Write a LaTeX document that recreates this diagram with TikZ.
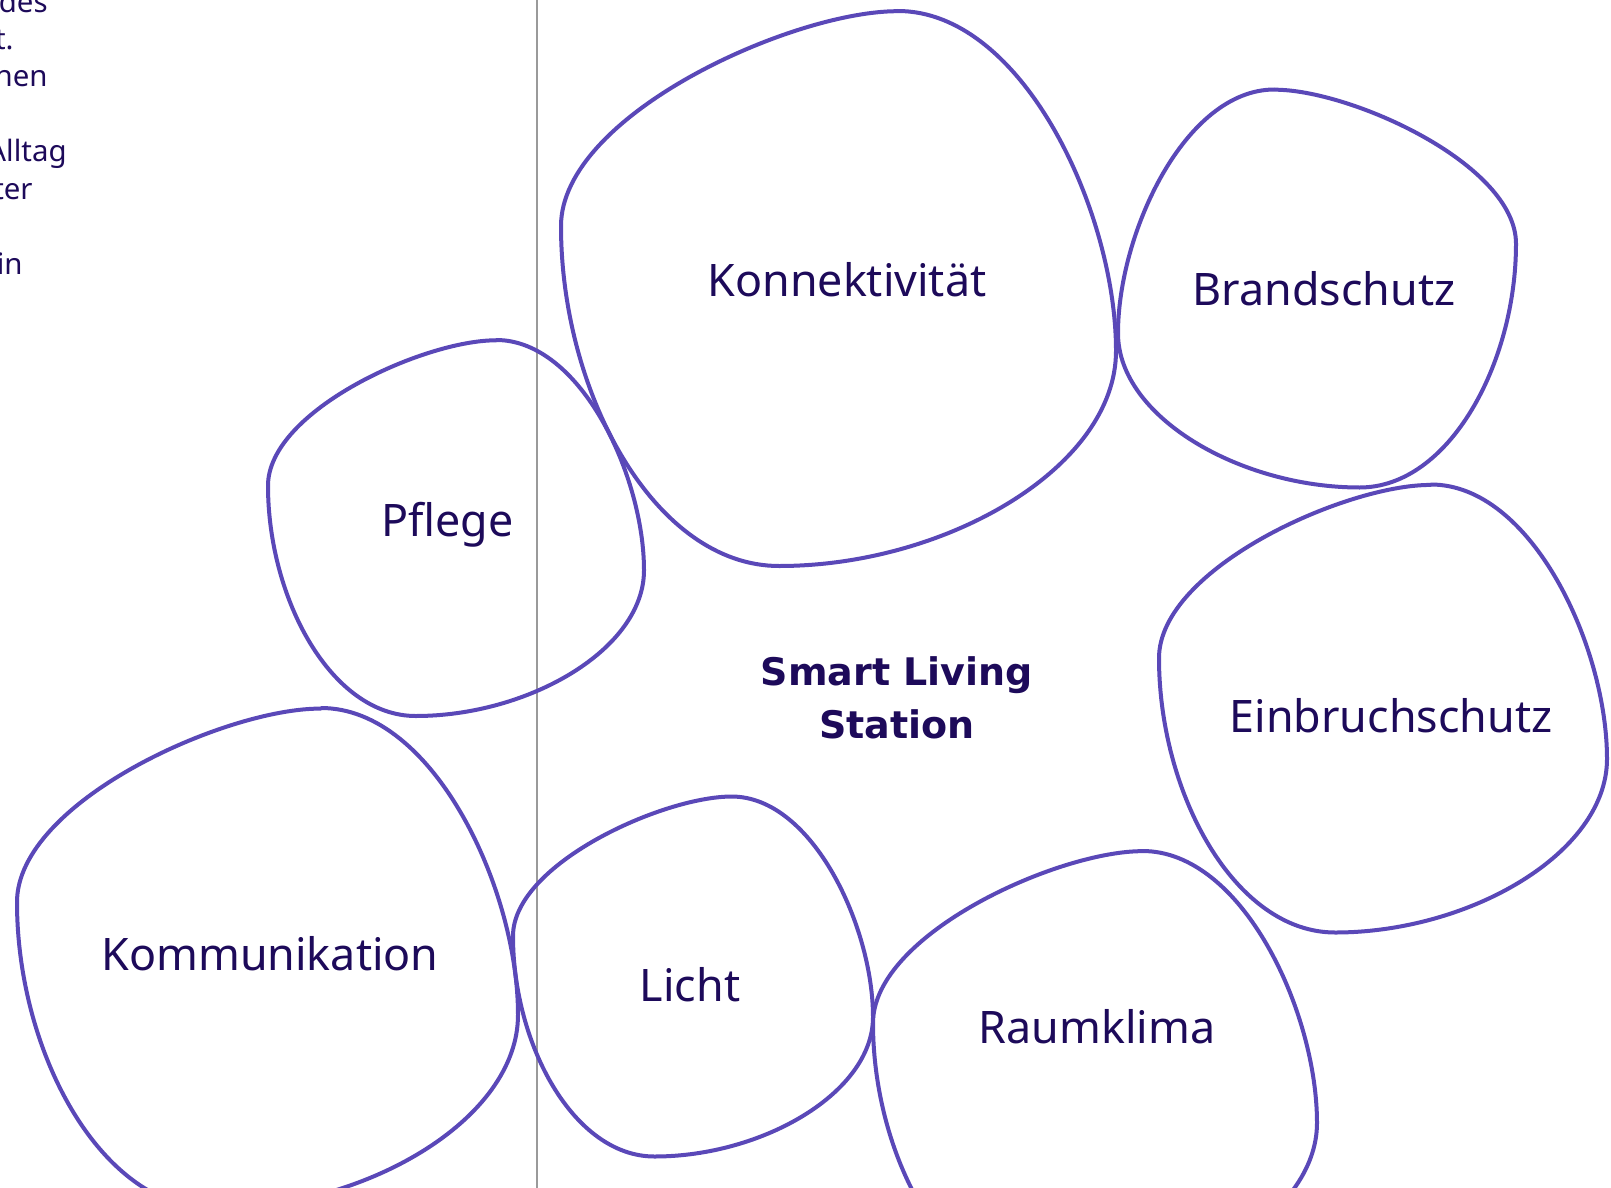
\documentclass[tikz,border=0pt]{standalone}
\usepackage{fontspec}
\setmainfont{Noto Sans}
\newfontfamily\slsfont{DejaVu Sans}
\definecolor{blobcol}{HTML}{5A48B8}
\definecolor{txtcol}{HTML}{1D0A5A}
\definecolor{rulecol}{HTML}{9A9A9A}
\newcommand\blobshape[4]{%
  \draw[blobline, shift={(#1,#2)}, xscale=#4, yscale=#3]
    (0.214,-1) .. controls (0.664,-1) and (1,-0.275) .. (1,0.225)
    .. controls (1,0.645) and (0.386,1) .. (-0.214,1)
    .. controls (-0.664,1) and (-1,0.375) .. (-1,-0.225)
    .. controls (-1,-0.625) and (-0.166,-1) .. cycle;
}
\begin{document}
\begin{tikzpicture}[x=0.5pt, y=-0.5pt,
  blobline/.style={draw=blobcol, line width=2pt, line join=round},
  lbl/.style={anchor=base, inner sep=0pt, text=txtcol, font=\fontsize{22.4pt}{26pt}\selectfont},
  sidetext/.style={anchor=base east, inner sep=0pt, text=txtcol, font=\fontsize{14.7pt}{18.75pt}\selectfont}]
\useasboundingbox[fill=white] (0,0) rectangle (1611,1188);

% left column text (cut off at the page edge)
\node[sidetext] (s1) at (48,12.5) {des};
\node[sidetext] (s2) at (14,49.5) {t.};
\node[sidetext] (s3) at (48,87) {nen};
\node[sidetext] (s4) at (67,162) {Alltag};
\node[sidetext] (s5) at (33,199.5) {ter};
\node[sidetext] (s6) at (23,274.5) {in};

% divider
\draw[rulecol, line width=0.6pt] (537,0) -- (537,1188);

% blobs: center x, center y, half size, x-scale (signed)
\blobshape{838.5}{288.5}{277.5}{277.5}   % Konnektivitaet
\blobshape{1317}{288.5}{199}{-199}       % Brandschutz
\blobshape{456}{528}{188}{188}           % Pflege
\blobshape{1383}{708.5}{224}{224}        % Einbruchschutz
\blobshape{267.5}{958.5}{250.5}{250.5}   % Kommunikation
\blobshape{693}{976.5}{180}{180}         % Licht
\blobshape{1095}{1073}{222}{222}         % Raumklima

% labels
\node[lbl] (konn) at (847,296) {Konnektivität};
\node[lbl] (brand) at (1324,305) {Brandschutz};
\node[lbl] (pflege) at (447.5,536) {Pflege};
\node[lbl] (einbr) at (1391,732) {Einbruchschutz};
\node[lbl] (komm) at (270,970) {Kommunikation};
\node[lbl] (licht) at (690,1001) {Licht};
\node[lbl] (raum) at (1097,1043) {Raumklima};
\node[anchor=base, inner sep=0pt, text=txtcol, align=center,
  font=\slsfont\fontsize{19pt}{26.5pt}\selectfont\bfseries] (sls) at (897,738) {Smart Living\\Station};
\end{tikzpicture}
\end{document}
